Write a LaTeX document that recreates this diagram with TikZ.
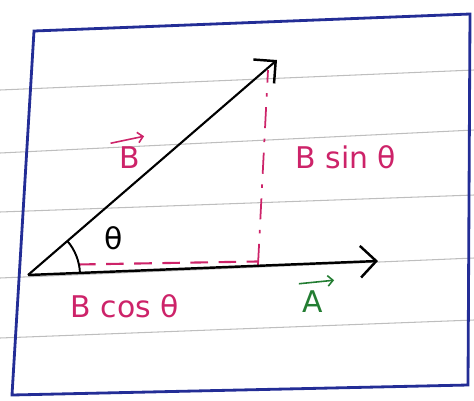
\documentclass[tikz,border=0pt]{standalone}
\usepackage{fontspec}
\setmainfont{DejaVu Sans}
\usetikzlibrary{arrows.meta}
\definecolor{boxblue}{RGB}{35,45,150}
\definecolor{pinkc}{RGB}{205,35,105}
\definecolor{greenc}{RGB}{35,125,50}
\definecolor{ruleg}{RGB}{190,190,190}
\tikzset{
  vec/.style={line width=1.4pt, -{Straight Barb[length=9pt,width=18pt,line width=1.4pt]}},
  comp/.style={pinkc, line width=1pt, dash pattern=on 12pt off 6pt on 2pt off 6pt},
  lbl/.style={font=\fontsize{17}{19}\selectfont, inner sep=1pt},
  ruled/.style={ruleg, line width=0.6pt},
  overarrow/.style={line width=0.9pt, -{Straight Barb[length=3pt,width=6pt]}}
}
\begin{document}
\begin{tikzpicture}[x=0.02cm,y=-0.02cm]
\useasboundingbox (0,0) rectangle (474,400);
% ruled notebook lines
\draw[ruled] (0,90) -- (474,70);
\draw[ruled] (0,153) -- (474,130);
\draw[ruled] (0,212) -- (474,195);
\draw[ruled] (0,278) -- (474,258);
\draw[ruled] (0,338) -- (474,320);
% blue frame
\draw[boxblue, line width=1.6pt] (34,31) -- (470,14) -- (468,385) -- (12,395) -- cycle;
% points
\coordinate (O) at (28,275);
\coordinate (Btip) at (277,60);
\coordinate (Atip) at (378,261);
\coordinate (F) at (258,265);
\coordinate (Ftop) at (268,70);
% components
\draw[comp] (F) -- (Ftop);
\draw[comp, line width=1.2pt, dash pattern=on 10pt off 6pt] ([yshift=2pt]O) ++(50,-7) -- ([yshift=2pt]F);
% vectors
\draw[vec] (O) -- (Atip);
\draw[vec, line width=1.2pt] (O) -- (Btip);
% angle arc
\draw[line width=1.1pt] (O) ++(-2:52) arc[start angle=-2, end angle=-41, radius=52];
% labels
\node[lbl] (th) at (114,238) {θ};
\node[lbl, pinkc] (lB) at (130,158) {B};
\draw[overarrow, pinkc] ([xshift=-4pt,yshift=1pt]lB.north west) -- ([xshift=1pt,yshift=5pt]lB.north east);
\node[lbl, pinkc] (bs) at (346,157) {B sin θ};
\node[lbl, pinkc] (bc) at (125,306) {B cos θ};
\node[lbl, greenc] (lA) at (313,302) {A};
\draw[overarrow, greenc] ([xshift=-1pt,yshift=3pt]lA.north west) -- ([xshift=5pt,yshift=5pt]lA.north east);
\end{tikzpicture}
\end{document}
